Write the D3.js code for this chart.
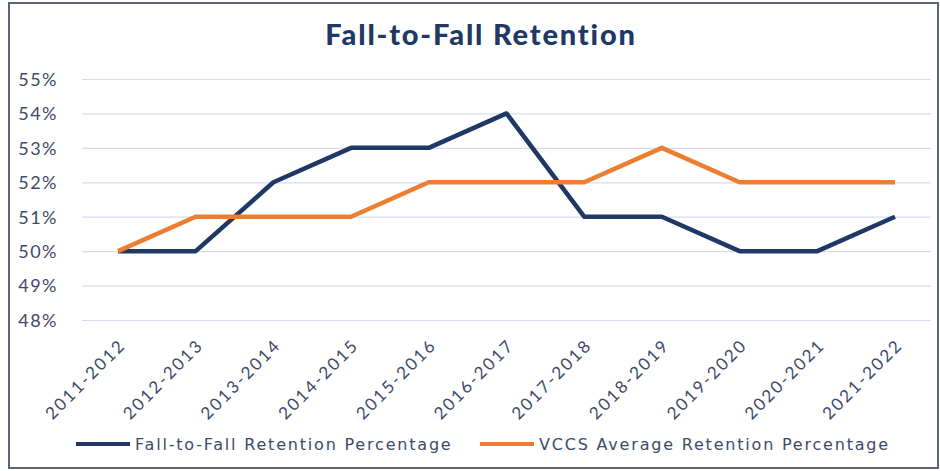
<!DOCTYPE html>
<html>
<head>
<meta charset="utf-8">
<script src="https://cdn.jsdelivr.net/npm/d3@7"></script>
<style>
  body { margin: 0; background: #fff; }
  svg { display: block; }
  .tick text { fill: #3d4a68; }
</style>
</head>
<body>
<div id="container"><svg></svg></div>
<script>
const years = ["2011-2012", "2012-2013", "2013-2014", "2014-2015", "2015-2016", "2016-2017",
  "2017-2018", "2018-2019", "2019-2020", "2020-2021", "2021-2022"];
const fallRetention = [50, 50, 52, 53, 53, 54, 51, 51, 50, 50, 51];
const vccsAverage = [50, 51, 51, 51, 52, 52, 52, 53, 52, 52, 52];
const yTicks = [48, 49, 50, 51, 52, 53, 54, 55];
const seriesNames = ["Fall-to-Fall Retention Percentage", "VCCS Average Retention Percentage"];
const seriesColors = ["#203864", "#ed7d31"];

drawChart();

function drawChart() {
  const width = 940, height = 471;
  const svg = d3.select("#container svg").attr("width", width).attr("height", height);

  // outer frame
  svg.append("rect")
    .attr("x", 9).attr("y", 3)
    .attr("width", 929).attr("height", 465)
    .attr("fill", "#fff")
    .attr("stroke", "#5b6577")
    .attr("stroke-width", 2);

  svg.append("text")
    .attr("x", 481).attr("y", 45)
    .attr("text-anchor", "middle")
    .attr("font-family", "Lato")
    .attr("font-weight", 900)
    .attr("font-size", 29)
    .attr("letter-spacing", 1.8)
    .attr("fill", "#203864")
    .text("Fall-to-Fall Retention");

  const plot = { left: 82, right: 931, top: 79, bottom: 320 };
  const x = d3.scalePoint().domain(years).range([118, 895]);
  const y = d3.scaleLinear().domain([48, 55]).range([plot.bottom, plot.top]);

  // gridlines + y labels
  const yAxis = svg.append("g")
    .attr("transform", `translate(${plot.left},0)`)
    .call(d3.axisLeft(y).tickValues(yTicks).tickSize(-(plot.right - plot.left))
      .tickPadding(24).tickFormat((d) => d + "%"));
  yAxis.select(".domain").remove();
  yAxis.selectAll(".tick line").attr("stroke", "#d6dcf0").attr("stroke-width", 1.2);
  yAxis.selectAll(".tick text")
    .attr("font-family", "Lato")
    .attr("font-size", 18)
    .attr("letter-spacing", 1.5)
    .attr("dy", "0.35em");

  // x labels
  const xAxis = svg.append("g")
    .attr("transform", `translate(0,${plot.bottom})`)
    .call(d3.axisBottom(x).tickSize(0).tickPadding(0));
  xAxis.select(".domain").remove();
  xAxis.selectAll(".tick text")
    .attr("font-family", "Lato")
    .attr("font-size", 17)
    .attr("letter-spacing", 2.2)
    .attr("text-anchor", "end")
    .attr("transform", "translate(4,22) rotate(-45)")
    .attr("dy", "0.35em");

  const line = d3.line().x((d, i) => x(years[i])).y((d) => y(d));

  [fallRetention, vccsAverage].forEach((values, k) => {
    svg.append("path")
      .datum(values)
      .attr("d", line)
      .attr("fill", "none")
      .attr("stroke", seriesColors[k])
      .attr("stroke-width", 4.5)
      .attr("stroke-linejoin", "round");
  });

  // legend
  const legendX = [76, 480];
  const legend = svg.selectAll(".legend")
    .data(seriesNames)
    .enter()
    .append("g")
    .attr("class", "legend")
    .attr("transform", (d, i) => `translate(${legendX[i]}, 444)`);

  legend.append("line")
    .attr("x1", 0).attr("x2", 54)
    .attr("stroke", (d, i) => seriesColors[i])
    .attr("stroke-width", 4);

  legend.append("text")
    .attr("x", 59)
    .attr("dy", "0.35em")
    .attr("font-family", "DejaVu Sans")
    .attr("font-size", 16)
    .attr("letter-spacing", 1.8)
    .attr("fill", "#3d4a68")
    .text((d) => d);
}
</script>
</body>
</html>
